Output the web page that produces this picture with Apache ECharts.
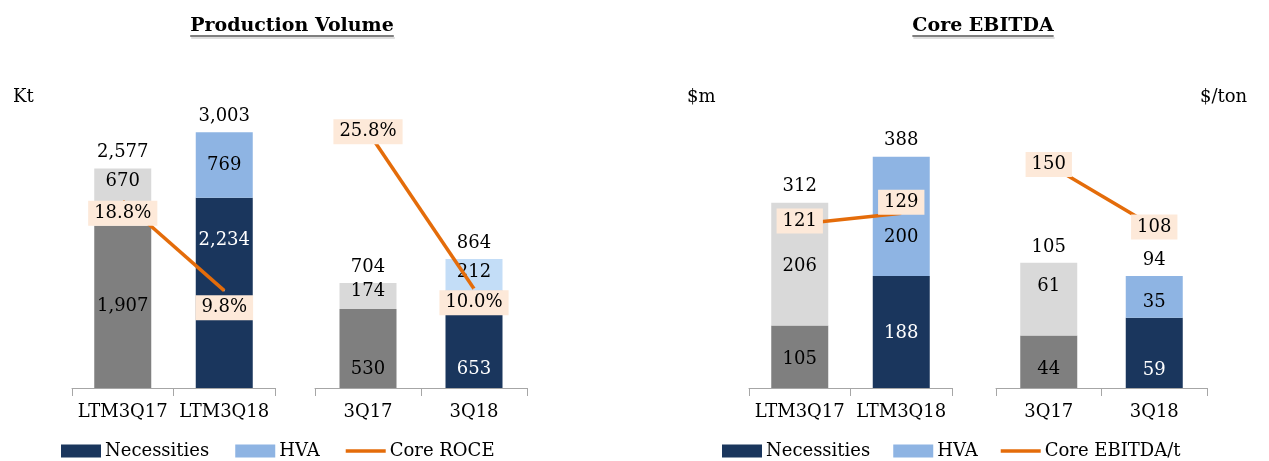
<!DOCTYPE html>
<html><head><meta charset="utf-8">
<script src="https://cdn.jsdelivr.net/npm/echarts@6/dist/echarts.min.js"></script>
<style>html,body{margin:0;padding:0;background:#fff}#c{width:1269px;height:461px}</style>
</head><body><div id="c"></div>
<script>
// ---------- DATA ----------
const catsLTM = ['LTM3Q17', 'LTM3Q18'];
const cats3Q = ['3Q17', '3Q18'];
// Production Volume (Kt)
const pvNecLTM = [1907, 2234];
const pvHvaLTM = [670, 769];
const pvTotLTM = [2577, 3003];
const roceLTM = [18.8, 9.8];
const pvNec3Q = [530, 653];
const pvHva3Q = [174, 212];
const pvTot3Q = [704, 864];
const roce3Q = [25.8, 10.0];
// Core EBITDA ($m) and $/ton
const ebNecLTM = [105, 188];
const ebHvaLTM = [206, 200];
const ebTotLTM = [312, 388];
const ebtLTM = [121, 129];
const ebNec3Q = [44, 59];
const ebHva3Q = [61, 35];
const ebTot3Q = [105, 94];
const ebt3Q = [150, 108];

// ---------- STYLE ----------
const FONT = 'DejaVu Serif';
const FS = 18;
const C = {
  gray: '#7f7f7f', lgray: '#d9d9d9', navy: '#1a365d', hva: '#8eb4e3', hvaLight: '#c3ddf7',
  line: '#e46c0a', box: '#fde9d9', axis: '#a6a6a6'
};
const grids = [
  {left: 72, top: 90, width: 203, height: 298},
  {left: 315, top: 90, width: 212, height: 298},
  {left: 749, top: 90, width: 203, height: 298},
  {left: 996, top: 90, width: 211, height: 298}
];
const yMax = [3500, 2000, 500, 250];
const y2Max = [30, 30, 220, 200];

const panels = [
  {cats: catsLTM, nec: pvNecLTM, hva: pvHvaLTM, tot: pvTotLTM, ln: roceLTM, fmt: v => v.toFixed(1) + '%',
   necCol: [C.gray, C.navy], hvaCol: [C.lgray, C.hva], necOff: [0, -53], hvaOff: [-16, 0], lnOff: [12, 17], lineName: 'Core ROCE'},
  {cats: cats3Q, nec: pvNec3Q, hva: pvHva3Q, tot: pvTot3Q, ln: roce3Q, fmt: v => v.toFixed(1) + '%',
   necCol: [C.gray, C.navy], hvaCol: [C.lgray, C.hvaLight], necOff: [21, 30], hvaOff: [-5, -3], lnOff: [0, 14], lineName: 'Core ROCE'},
  {cats: catsLTM, nec: ebNecLTM, hva: ebHvaLTM, tot: ebTotLTM, ln: ebtLTM, fmt: v => String(v),
   necCol: [C.gray, C.navy], hvaCol: [C.lgray, C.hva], necOff: [3, 1], hvaOff: [2, 21], lnOff: [-3, -11], lineName: 'Core EBITDA/t'},
  {cats: cats3Q, nec: ebNec3Q, hva: ebHva3Q, tot: ebTot3Q, ln: ebt3Q, fmt: v => String(v),
   necCol: [C.gray, C.navy], hvaCol: [C.lgray, C.hva], necOff: [8, 17], hvaOff: [-13, 6], lnOff: [0, 0], lineName: 'Core EBITDA/t'}
];
const numFmt = v => v.toLocaleString('en-US');

const xAxis = [], yAxis = [], series = [];
panels.forEach((p, k) => {
  xAxis.push({
    type: 'category', gridIndex: k, data: p.cats,
    axisLine: {lineStyle: {color: C.axis, width: 1}},
    axisTick: {show: true, length: 8, lineStyle: {color: C.axis}},
    axisLabel: {interval: 0, hideOverlap: false, fontFamily: FONT, fontSize: FS, color: '#000', margin: 15}
  });
  yAxis.push({type: 'value', gridIndex: k, min: 0, max: yMax[k], show: false, splitLine: {show: false}});
  yAxis.push({type: 'value', gridIndex: k, min: 0, max: y2Max[k], show: false, splitLine: {show: false}, position: 'right'});
  const yi = k * 2;
  series.push({
    name: 'Necessities', type: 'bar', stack: 's' + k, xAxisIndex: k, yAxisIndex: yi, barWidth: 57,
    itemStyle: {color: C.navy},
    data: p.nec.map((v, i) => ({
      value: v, itemStyle: {color: p.necCol[i]},
      label: {show: true, position: 'inside', offset: [0, p.necOff[i]], color: i === 0 ? '#000' : '#fff',
        fontFamily: FONT, fontSize: FS, formatter: () => numFmt(v)}
    }))
  });
  series.push({
    name: 'HVA', type: 'bar', stack: 's' + k, xAxisIndex: k, yAxisIndex: yi, barWidth: 57,
    itemStyle: {color: C.hva},
    data: p.hva.map((v, i) => ({
      value: v, itemStyle: {color: p.hvaCol[i]},
      label: {show: true, position: 'inside', offset: [0, p.hvaOff[i]], color: '#000',
        fontFamily: FONT, fontSize: FS, formatter: () => numFmt(v)}
    }))
  });
  series.push({
    name: 'total' + k, type: 'bar', stack: 't' + k, xAxisIndex: k, yAxisIndex: yi, barWidth: 57, barGap: '-100%',
    itemStyle: {color: 'rgba(0,0,0,0)'}, silent: true,
    label: {show: true, position: 'top', distance: 7, color: '#000', fontFamily: FONT, fontSize: FS,
      formatter: d => numFmt(d.value)},
    data: p.tot
  });
  series.push({
    name: p.lineName, type: 'line', xAxisIndex: k, yAxisIndex: yi + 1, z: 5,
    symbol: 'none', lineStyle: {color: C.line, width: 3.5}, itemStyle: {color: C.line},
    data: p.ln
  });
  series.push({
    name: 'lbl' + k, type: 'scatter', xAxisIndex: k, yAxisIndex: yi + 1, z: 6, silent: true,
    symbolSize: 1, itemStyle: {color: C.box, opacity: 1},
    data: p.ln.map((v, i) => ({
      value: v,
      label: {show: true, position: 'inside', offset: [0, p.lnOff[i]], color: '#000', fontFamily: FONT, fontSize: FS,
        backgroundColor: C.box, opacity: 1, padding: [4, 6, 3, 6], formatter: () => p.fmt(v)}
    }))
  });
});

const cv = document.createElement('canvas').getContext('2d');
const TFS = 19;
cv.font = 'bold ' + TFS + 'px "' + FONT + '"';
const titles = [{text: 'Production Volume', cx: 292}, {text: 'Core EBITDA', cx: 983}];
const graphic = [];
titles.forEach(t => {
  const w = cv.measureText(t.text).width;
  graphic.push({type: 'text', x: t.cx, y: 26, style: {text: t.text, font: 'bold ' + TFS + 'px "' + FONT + '"', fill: '#000', textAlign: 'center', textVerticalAlign: 'middle'}});
  graphic.push({type: 'line', shape: {x1: t.cx - w / 2, y1: 36, x2: t.cx + w / 2, y2: 36}, style: {stroke: '#000', lineWidth: 1.2}});
  graphic.push({type: 'line', shape: {x1: t.cx - w / 2 + 1, y1: 38, x2: t.cx + w / 2 + 1, y2: 38}, style: {stroke: '#bfbfbf', lineWidth: 1}});
});
[{t: 'Kt', x: 13}, {t: '$m', x: 687}, {t: '$/ton', x: 1200}].forEach(u => {
  graphic.push({type: 'text', x: u.x, y: 97, style: {text: u.t, font: FS + 'px "' + FONT + '"', fill: '#000', textVerticalAlign: 'middle'}});
});

const lineIcon = 'path://M0,0H40V3.5H0Z';
const legendBase = {
  orient: 'horizontal', top: 442, padding: 0, itemWidth: 40, itemHeight: 13, itemGap: 26,
  formatter: '{a|{name}}',
  textStyle: {fontFamily: FONT, fontSize: FS, color: '#000', padding: [0, 0, 0, -1],
    rich: {a: {fontFamily: FONT, fontSize: FS, color: '#000'}}},
  selectedMode: false
};
const option = {
  animation: false,
  textStyle: {fontFamily: FONT},
  grid: grids,
  xAxis, yAxis, series, graphic,
  legend: [
    Object.assign({}, legendBase, {left: 61, data: [{name: 'Necessities', icon: 'rect'}, {name: 'HVA', icon: 'rect'}, {name: 'Core ROCE', icon: lineIcon}]}),
    Object.assign({}, legendBase, {left: 722, itemGap: 23, data: [{name: 'Necessities', icon: 'rect'}, {name: 'HVA', icon: 'rect'}, {name: 'Core EBITDA/t', icon: lineIcon}]})
  ]
};
echarts.init(document.getElementById('c'), null, {renderer: 'canvas'}).setOption(option);
</script></body></html>
